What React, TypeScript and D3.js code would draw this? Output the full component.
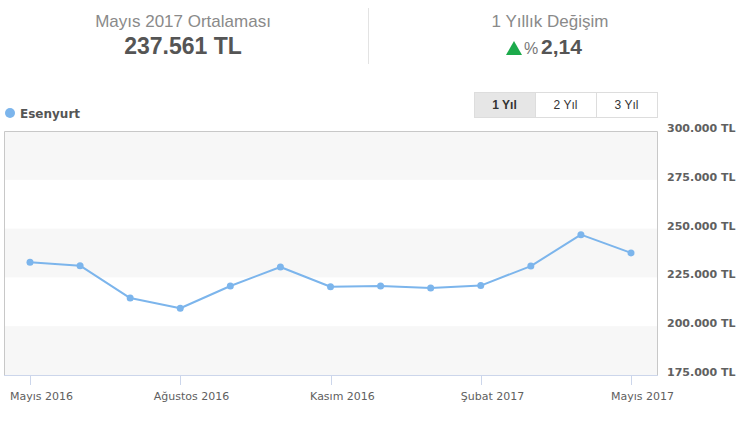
import { useEffect, useRef } from 'react'
import * as d3 from 'd3'

// Monthly average prices, Esenyurt
const months = [
  'Mayıs 2016', 'Haziran 2016', 'Temmuz 2016', 'Ağustos 2016', 'Eylül 2016', 'Ekim 2016',
  'Kasım 2016', 'Aralık 2016', 'Ocak 2017', 'Şubat 2017', 'Mart 2017', 'Nisan 2017', 'Mayıs 2017'
]
const prices = [
  232700, 231000, 214400, 209200, 220600, 230300,
  220200, 220600, 219600, 220800, 230800, 246900, 237561
]
const tickMonths = ['Mayıs 2016', 'Ağustos 2016', 'Kasım 2016', 'Şubat 2017', 'Mayıs 2017']
const yTicks = [175000, 200000, 225000, 250000, 275000, 300000]
const rangeButtons = ['1 Yıl', '2 Yıl', '3 Yıl']
const seriesName = 'Esenyurt'
const yearChange = '2,14'

const W = 742
const H = 424
const plot = { left: 4, right: 657, top: 131, bottom: 375 }
const fmt = (v: number) => d3.format(',')(v).replace(/,/g, '.') + ' TL'

const App: React.FC = () => {
  const svgRef = useRef<SVGSVGElement>(null)

  useEffect(() => {
    if (!svgRef.current) return
    const svg = d3.select(svgRef.current)
    svg.selectAll('*').remove()

    const x = d3.scalePoint<string>().domain(months).range([plot.left + 26, plot.right - 26])
    const y = d3.scaleLinear().domain([175000, 300000]).range([plot.bottom, plot.top])

    // Header
    const hdr = svg.append('g').attr('font-family', '"Liberation Sans", Arial, sans-serif')
    hdr.append('text').attr('x', 183).attr('y', 27).attr('text-anchor', 'middle')
      .attr('font-size', 17).attr('fill', '#8a8a8a').text('Mayıs 2017 Ortalaması')
    hdr.append('text').attr('x', 183).attr('y', 54).attr('text-anchor', 'middle')
      .attr('font-size', 23).attr('font-weight', 'bold').attr('fill', '#555').text(fmt(prices[prices.length - 1]))
    hdr.append('line').attr('x1', 368.5).attr('x2', 368.5).attr('y1', 8).attr('y2', 64)
      .attr('stroke', '#e3e3e3')
    hdr.append('text').attr('x', 550).attr('y', 27).attr('text-anchor', 'middle')
      .attr('font-size', 17).attr('fill', '#8a8a8a').text('1 Yıllık Değişim')
    hdr.append('path').attr('d', 'M506,55 L514,41 L522,55 Z').attr('fill', '#1caa4b')
    hdr.append('text').attr('x', 524).attr('y', 54).attr('font-size', 16).attr('fill', '#777').text('%')
    hdr.append('text').attr('x', 541).attr('y', 54)
      .attr('font-size', 21).attr('font-weight', 'bold').attr('fill', '#555').text(yearChange)

    // Legend
    svg.append('circle').attr('cx', 10).attr('cy', 113).attr('r', 5).attr('fill', '#7cb5ec')
    svg.append('text').attr('x', 20).attr('y', 117.5)
      .attr('font-family', '"DejaVu Sans", Verdana, sans-serif').attr('font-size', 12)
      .attr('font-weight', 'bold').attr('fill', '#555').text(seriesName)

    // Range buttons
    const bw = 61
    rangeButtons.forEach((b, i) => {
      const bx = 474 + i * bw
      svg.append('rect').attr('x', bx + 0.5).attr('y', 92.5).attr('width', bw).attr('height', 25)
        .attr('fill', i === 0 ? '#e6e6e6' : '#fff').attr('stroke', '#ddd')
      svg.append('text').attr('x', bx + bw / 2).attr('y', 109).attr('text-anchor', 'middle')
        .attr('font-family', '"Liberation Sans", Arial, sans-serif').attr('font-size', 12)
        .attr('font-weight', i === 0 ? 'bold' : 'normal').attr('fill', '#333').text(b)
    })

    // Alternate bands
    for (let i = 0; i < yTicks.length - 1; i++) {
      if (i % 2 === 0) {
        svg.append('rect').attr('x', plot.left).attr('width', plot.right - plot.left)
          .attr('y', y(yTicks[i + 1])).attr('height', y(yTicks[i]) - y(yTicks[i + 1]))
          .attr('fill', '#f7f7f7')
      }
    }

    // Plot border
    svg.append('path')
      .attr('d', `M${plot.left + 0.5},${plot.bottom} V${plot.top + 0.5} H${plot.right + 0.5} V${plot.bottom}`)
      .attr('fill', 'none').attr('stroke', '#c8c8c8')
    svg.append('line').attr('x1', plot.left).attr('x2', plot.right + 1)
      .attr('y1', plot.bottom + 0.5).attr('y2', plot.bottom + 0.5).attr('stroke', '#ccd6eb')

    // X ticks
    const xa = svg.append('g')
    tickMonths.forEach(m => {
      const px = Math.round(x(m) || 0) + 0.5
      xa.append('line').attr('x1', px).attr('x2', px).attr('y1', plot.bottom).attr('y2', plot.bottom + 10)
        .attr('stroke', '#ccd6eb')
      xa.append('text').attr('x', px + 11).attr('y', plot.bottom + 25).attr('text-anchor', 'middle')
        .attr('font-family', '"DejaVu Sans", Verdana, sans-serif').attr('font-size', 11)
        .attr('fill', '#606060').text(m)
    })

    // Y labels
    yTicks.forEach(t => {
      svg.append('text').attr('x', 667).attr('y', y(t) + 1)
        .attr('font-family', '"DejaVu Sans", Verdana, sans-serif').attr('font-size', 11)
        .attr('font-weight', 'bold').attr('fill', '#606060').text(fmt(t))
    })

    // Line + markers
    const line = d3.line<number>().x((_, i) => x(months[i]) || 0).y(d => y(d))
    svg.append('path').datum(prices).attr('d', line).attr('fill', 'none')
      .attr('stroke', '#7cb5ec').attr('stroke-width', 2).attr('stroke-linejoin', 'round')
    svg.selectAll('circle.pt').data(prices).enter().append('circle').attr('class', 'pt')
      .attr('cx', (_, i) => x(months[i]) || 0).attr('cy', d => y(d)).attr('r', 3.5)
      .attr('fill', '#7cb5ec')
  }, [])

  return <svg ref={svgRef} width={W} height={H} style={{ position: 'absolute', left: 0, top: 0 }} />
}

export default App
